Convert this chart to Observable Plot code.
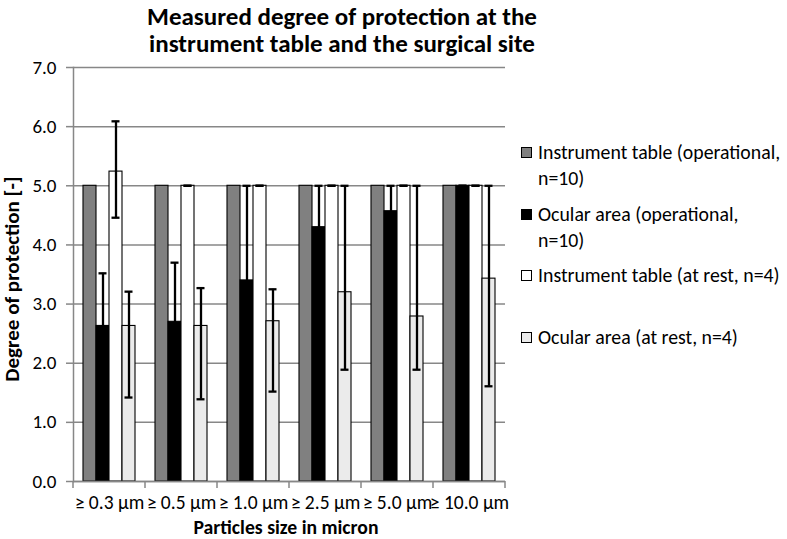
<!DOCTYPE html>
<html>
<head>
<meta charset="utf-8">
<script src="https://cdn.jsdelivr.net/npm/d3@7"></script>
<script src="https://cdn.jsdelivr.net/npm/@observablehq/plot@0.6"></script>
<style>
  body { margin: 0; background: #fff; }
  #chart { position: relative; width: 787px; height: 539px; font-family: Carlito, Lato, sans-serif; color: #000; overflow: hidden; }
  #title { position: absolute; left: 0; top: 3px; width: 684px; height: 56px; text-align: center; font-weight: bold; font-size: 25px; line-height: 27px; }
  #plot { position: absolute; left: 0; top: 56px; }
  #ytitle { position: absolute; left: 12px; top: 279px; transform: translate(-50%, -50%) rotate(-90deg); white-space: nowrap; font-weight: bold; font-size: 21px; }
  #xtitle { position: absolute; left: 286px; top: 527px; transform: translate(-50%, -50%); white-space: nowrap; font-weight: bold; font-size: 19.7px; line-height: 22px; }
  #legend { position: absolute; left: 521px; top: 139px; font-size: 19.8px; }
  .item { display: flex; align-items: flex-start; height: 61.7px; }
  .sw { width: 9px; height: 9px; border: 1px solid #000; margin-top: 8px; margin-right: 6px; flex: none; }
  .lab { white-space: pre; line-height: 26px; }
</style>
</head>
<body>
<div id="chart">
  <div id="title">Measured degree of protection at the<br>instrument table and the surgical site</div>
  <div id="plot"></div>
  <div id="ytitle">Degree of protection [-]</div>
  <div id="xtitle">Particles size in micron</div>
  <div id="legend"></div>
</div>
<script>
// ---- data ----
const categories = ["≥ 0.3 µm", "≥ 0.5 µm", "≥ 1.0 µm", "≥ 2.5 µm", "≥ 5.0 µm", "≥ 10.0 µm"];
const seriesNames = [
  "Instrument table (operational, n=10)",
  "Ocular area (operational, n=10)",
  "Instrument table (at rest, n=4)",
  "Ocular area (at rest, n=4)"
];
const seriesColors = ["#808080", "#000000", "#ffffff", "#ebebeb"];
const yTicks = [0, 1, 2, 3, 4, 5, 6, 7];

const instrOp = [5.0, 5.0, 5.0, 5.0, 5.0, 5.0];
const ocularOp = [2.63, 2.70, 3.40, 4.30, 4.57, 5.0];
const ocularOpLow = [1.74, 1.70, 1.80, 3.60, 4.14, 5.0];
const ocularOpHigh = [3.52, 3.70, 5.0, 5.0, 5.0, 5.0];
const instrRest = [5.24, 5.0, 5.0, 5.0, 5.0, 5.0];
const instrRestLow = [4.46, 5.0, 5.0, 5.0, 5.0, 5.0];
const instrRestHigh = [6.09, 5.0, 5.0, 5.0, 5.0, 5.0];
const ocularRest = [2.63, 2.63, 2.71, 3.20, 2.79, 3.43];
const ocularRestLow = [1.42, 1.39, 1.52, 1.89, 1.89, 1.61];
const ocularRestHigh = [3.21, 3.27, 3.25, 5.0, 5.0, 5.0];

// ---- table ----
const seriesValues = [
  [instrOp, null, null],
  [ocularOp, ocularOpLow, ocularOpHigh],
  [instrRest, instrRestLow, instrRestHigh],
  [ocularRest, ocularRestLow, ocularRestHigh]
];
const rows = [];
categories.forEach((cat, i) => {
  seriesNames.forEach((s, j) => {
    const [v, lo, hi] = seriesValues[j];
    rows.push({cat, series: s, value: v[i], low: lo ? lo[i] : null, high: hi ? hi[i] : null});
  });
});
const errRows = rows.filter(d => d.low != null);

const gridColor = "#878787";
const font = "Carlito, Lato, sans-serif";

const plot = Plot.plot({
  width: 787,
  height: 483,
  marginTop: 11,
  marginBottom: 58,
  marginLeft: 72,
  marginRight: 282,
  style: {fontFamily: font, fontSize: "18px", color: "#000", background: "transparent"},
  fx: {domain: categories, padding: 0, axis: null, label: null},
  x: {domain: seriesNames, paddingInner: 0, paddingOuter: 0.68, axis: null, label: null},
  y: {domain: [0, 7], axis: null, label: null},
  color: {domain: seriesNames, range: seriesColors},
  marks: [
    Plot.gridY({ticks: yTicks, stroke: gridColor, strokeOpacity: 1, strokeWidth: 1.5}),
    Plot.barY(rows, {fx: "cat", x: "series", y: "value", fill: "series", stroke: "#000", strokeWidth: 1.1}),
    Plot.ruleX(errRows, {fx: "cat", x: "series", y1: "low", y2: "high", stroke: "#000", strokeWidth: 2.3}),
    Plot.tickY(errRows, {fx: "cat", x: "series", y: "high", stroke: "#000", strokeWidth: 2.3, insetLeft: 2.5, insetRight: 2.5}),
    Plot.tickY(errRows, {fx: "cat", x: "series", y: "low", stroke: "#000", strokeWidth: 2.3, insetLeft: 2.5, insetRight: 2.5}),
    Plot.ruleY([0], {stroke: gridColor, strokeWidth: 1.5}),
    Plot.frame({anchor: "left", facetAnchor: "left", stroke: gridColor, strokeWidth: 1.5}),
    Plot.axisY({ticks: yTicks, tickFormat: d3.format(".1f"), tickSize: 7, tickPadding: 10, stroke: gridColor, strokeWidth: 1.5, label: null, fontSize: 19}),
    Plot.axisFx({anchor: "bottom", tickSize: 0, tickPadding: 14, label: null, fontSize: 19.5})
  ]
});

// category boundary ticks on the x axis, derived from the plot's own scales
const fxs = plot.scale("fx");
const ys = plot.scale("y");
const y0 = ys.apply(0);
const edges = categories.map(c => fxs.apply(c));
edges.push(fxs.apply(categories[categories.length - 1]) + fxs.bandwidth);
d3.select(plot).append("g")
  .selectAll("line").data(edges).join("line")
  .attr("x1", d => d).attr("x2", d => d)
  .attr("y1", y0).attr("y2", y0 + 7)
  .attr("stroke", gridColor).attr("stroke-width", 1.5);

document.getElementById("plot").appendChild(plot);

// legend (operational entries wrap after the comma, as in the original)
const legend = d3.select("#legend");
seriesNames.forEach((s, j) => {
  const item = legend.append("div").attr("class", "item");
  item.append("div").attr("class", "sw").style("background", seriesColors[j]);
  item.append("div").attr("class", "lab").text(s.replace("operational, ", "operational,\n"));
});
</script>
</body>
</html>
